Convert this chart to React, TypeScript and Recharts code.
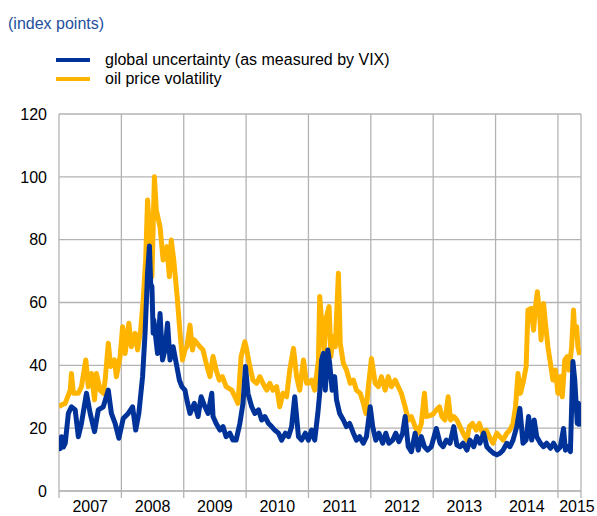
import { LineChart, Line, XAxis, YAxis, CartesianGrid } from "recharts";

// time axis in chart years (gridlines sit on whole numbers), value in index points
const vix: [number, number][] = [
  [2007.0, 15.2], [2007.02, 13.5], [2007.04, 17.3], [2007.07, 14.0], [2007.1, 15.2], [2007.15, 24.7],
  [2007.2, 26.8], [2007.26, 25.8], [2007.31, 17.3], [2007.36, 21.5], [2007.44, 31.1], [2007.5, 24.7],
  [2007.57, 18.9], [2007.63, 25.8], [2007.71, 26.8], [2007.79, 32.1], [2007.84, 24.7], [2007.9, 21.5],
  [2007.96, 16.8], [2008.03, 23.1], [2008.11, 24.7], [2008.18, 26.8], [2008.23, 19.4], [2008.28, 24.7],
  [2008.34, 36.4], [2008.38, 50.2], [2008.42, 69.3], [2008.45, 78.0], [2008.47, 66.0], [2008.49, 65.0],
  [2008.51, 50.2], [2008.52, 54.4], [2008.58, 43.8], [2008.62, 56.5], [2008.66, 41.7], [2008.7, 44.9],
  [2008.74, 53.4], [2008.78, 41.7], [2008.83, 45.9], [2008.89, 39.6], [2008.93, 35.3], [2008.97, 33.2],
  [2009.02, 32.1], [2009.05, 29.0], [2009.1, 24.7], [2009.17, 27.9], [2009.23, 23.7], [2009.28, 30.0],
  [2009.34, 26.8], [2009.39, 24.7], [2009.45, 31.1], [2009.47, 23.7], [2009.52, 21.5], [2009.58, 19.4],
  [2009.63, 20.5], [2009.68, 17.3], [2009.74, 18.4], [2009.79, 16.2], [2009.84, 16.2], [2009.9, 21.5],
  [2009.95, 27.9], [2009.99, 39.6], [2010.03, 31.1], [2010.09, 26.8], [2010.14, 24.7], [2010.2, 25.8],
  [2010.25, 22.6], [2010.3, 23.7], [2010.36, 21.5], [2010.41, 20.5], [2010.46, 19.4], [2010.52, 18.4],
  [2010.57, 16.2], [2010.63, 18.4], [2010.68, 17.3], [2010.73, 20.5], [2010.78, 30.0], [2010.84, 17.3],
  [2010.89, 16.2], [2010.95, 18.4], [2011.0, 16.2], [2011.05, 19.4], [2011.1, 16.2], [2011.15, 24.7],
  [2011.18, 31.1], [2011.21, 41.7], [2011.24, 43.8], [2011.27, 32.1], [2011.31, 44.9], [2011.34, 40.6],
  [2011.38, 32.1], [2011.42, 36.4], [2011.45, 29.0], [2011.5, 24.7], [2011.56, 22.6], [2011.61, 20.5],
  [2011.66, 21.5], [2011.72, 18.4], [2011.77, 16.2], [2011.82, 17.3], [2011.88, 15.2], [2011.93, 17.3],
  [2011.99, 26.8], [2012.03, 20.5], [2012.08, 16.2], [2012.13, 18.4], [2012.19, 15.2], [2012.24, 18.4],
  [2012.29, 15.2], [2012.35, 16.2], [2012.4, 18.4], [2012.45, 15.7], [2012.51, 18.4], [2012.55, 23.7],
  [2012.6, 14.1], [2012.65, 12.5], [2012.71, 18.4], [2012.76, 13.0], [2012.81, 17.3], [2012.86, 14.1],
  [2012.91, 13.0], [2012.97, 14.1], [2013.05, 19.9], [2013.11, 15.2], [2013.16, 14.1], [2013.21, 16.2],
  [2013.27, 15.2], [2013.33, 20.5], [2013.38, 14.6], [2013.43, 14.1], [2013.48, 15.2], [2013.54, 13.0],
  [2013.59, 16.2], [2013.65, 14.1], [2013.7, 17.3], [2013.75, 15.2], [2013.81, 18.4], [2013.86, 14.1],
  [2013.91, 13.0], [2013.97, 12.0], [2014.02, 11.5], [2014.07, 12.0], [2014.12, 13.0], [2014.18, 15.2],
  [2014.23, 14.1], [2014.28, 16.2], [2014.34, 20.5], [2014.39, 26.3], [2014.44, 15.2], [2014.49, 16.2],
  [2014.53, 23.7], [2014.58, 16.2], [2014.62, 22.6], [2014.66, 17.3], [2014.72, 15.2], [2014.77, 14.1],
  [2014.82, 15.2], [2014.88, 13.6], [2014.93, 15.2], [2014.99, 13.0], [2015.04, 14.1], [2015.09, 19.9],
  [2015.12, 13.0], [2015.16, 14.1], [2015.2, 12.5], [2015.24, 41.2], [2015.27, 35.3], [2015.31, 21.5],
  [2015.33, 27.9], [2015.35, 20.5],
];

const oilVol: [number, number][] = [
  [2007.0, 26.8], [2007.05, 27.5], [2007.1, 27.9], [2007.18, 32.1], [2007.2, 37.4], [2007.23, 31.1],
  [2007.31, 31.1], [2007.36, 33.2], [2007.43, 41.7], [2007.47, 33.2], [2007.52, 37.4], [2007.57, 29.0],
  [2007.6, 37.4], [2007.66, 32.1], [2007.71, 31.1], [2007.74, 35.3], [2007.79, 47.0], [2007.83, 39.6],
  [2007.89, 41.7], [2007.92, 36.4], [2007.98, 42.8], [2008.02, 52.3], [2008.06, 43.8], [2008.12, 53.4],
  [2008.16, 45.9], [2008.22, 50.2], [2008.26, 44.9], [2008.31, 51.2], [2008.35, 60.8], [2008.39, 73.5],
  [2008.42, 92.6], [2008.45, 84.1], [2008.49, 68.2], [2008.53, 100.0], [2008.56, 89.4], [2008.62, 84.1],
  [2008.67, 73.5], [2008.73, 77.8], [2008.77, 68.2], [2008.8, 79.9], [2008.84, 73.5], [2008.89, 62.9],
  [2008.94, 50.5], [2008.98, 41.7], [2009.02, 45.0], [2009.05, 45.9], [2009.1, 52.8], [2009.14, 44.9],
  [2009.17, 48.1], [2009.26, 45.9], [2009.31, 44.9], [2009.36, 40.6], [2009.42, 36.4], [2009.47, 42.8],
  [2009.52, 38.5], [2009.57, 35.3], [2009.62, 36.4], [2009.68, 33.2], [2009.77, 32.1], [2009.82, 30.0],
  [2009.87, 27.9], [2009.92, 42.8], [2009.98, 47.5], [2010.0, 45.9], [2010.06, 39.6], [2010.11, 35.3],
  [2010.17, 34.3], [2010.22, 36.4], [2010.27, 34.3], [2010.33, 32.1], [2010.38, 34.3], [2010.43, 32.1],
  [2010.49, 33.2], [2010.54, 26.8], [2010.59, 31.1], [2010.65, 30.0], [2010.7, 38.5], [2010.76, 45.4],
  [2010.81, 36.4], [2010.86, 32.1], [2010.92, 41.7], [2010.97, 34.3], [2011.0, 34.3], [2011.05, 35.3],
  [2011.1, 32.1], [2011.16, 41.7], [2011.18, 61.9], [2011.22, 52.3], [2011.25, 44.9], [2011.29, 55.5],
  [2011.33, 58.7], [2011.36, 42.8], [2011.39, 49.1], [2011.43, 45.9], [2011.48, 69.3], [2011.51, 47.0],
  [2011.56, 40.6], [2011.61, 38.5], [2011.67, 34.3], [2011.72, 35.3], [2011.77, 32.1], [2011.83, 31.1],
  [2011.88, 27.9], [2011.92, 24.7], [2011.96, 33.2], [2012.01, 42.2], [2012.07, 34.3], [2012.12, 33.2],
  [2012.17, 36.4], [2012.23, 32.1], [2012.28, 36.4], [2012.33, 33.2], [2012.39, 35.3], [2012.44, 33.2],
  [2012.49, 31.1], [2012.55, 26.8], [2012.6, 22.6], [2012.65, 23.7], [2012.71, 20.5], [2012.76, 18.4],
  [2012.81, 21.5], [2012.86, 31.1], [2012.89, 23.7], [2012.95, 24.0], [2013.0, 24.5], [2013.05, 25.8],
  [2013.1, 26.8], [2013.14, 23.7], [2013.19, 22.6], [2013.24, 30.0], [2013.28, 22.6], [2013.33, 23.7],
  [2013.38, 22.6], [2013.43, 20.5], [2013.48, 18.4], [2013.54, 16.2], [2013.58, 20.5], [2013.63, 21.5],
  [2013.69, 19.4], [2013.74, 21.5], [2013.79, 18.4], [2013.85, 19.4], [2013.9, 17.3], [2013.96, 15.2],
  [2014.02, 18.4], [2014.07, 17.3], [2014.12, 16.2], [2014.18, 18.4], [2014.23, 19.4], [2014.28, 21.5],
  [2014.32, 26.8], [2014.36, 37.4], [2014.4, 31.1], [2014.45, 35.3], [2014.49, 39.6], [2014.52, 57.6],
  [2014.57, 58.1], [2014.61, 51.2], [2014.64, 58.7], [2014.67, 63.4], [2014.71, 55.5], [2014.73, 48.1],
  [2014.77, 59.7], [2014.8, 53.4], [2014.84, 45.9], [2014.88, 40.6], [2014.92, 35.3], [2014.96, 38.5],
  [2015.0, 31.1], [2015.04, 36.4], [2015.07, 30.0], [2015.11, 41.7], [2015.15, 42.8], [2015.18, 38.5],
  [2015.22, 45.9], [2015.25, 57.6], [2015.27, 50.2], [2015.3, 52.3], [2015.32, 45.9], [2015.35, 43.3],
];

const years = [2007, 2008, 2009, 2010, 2011, 2012, 2013, 2014, 2015];
const xEnd = 2015.37;
const yTicks = [0, 20, 40, 60, 80, 100, 120];

const BLUE = "#003399";
const ORANGE = "#ffb400";
const GRID = "#b3b3b3";
const FONT = "'Liberation Sans', Arial, sans-serif";

const vixData = vix.map(([t, v]) => ({ t, v }));
const oilData = oilVol.map(([t, v]) => ({ t, v }));

const legendItems = [
  { label: "global uncertainty (as measured by VIX)", color: BLUE },
  { label: "oil price volatility", color: ORANGE },
];

function YearTick(props: any) {
  const { x, y, payload } = props;
  const year = payload.value;
  if (year >= xEnd) return null;
  const yearPx = (581 - 59) / (xEnd - 2007);
  const dx = year === 2015 ? 19 : yearPx / 2;
  return (
    <text x={x + dx} y={y} dy="0.75em" textAnchor="middle" fill="#000" fontSize={16} fontFamily={FONT}>
      {year}
    </text>
  );
}

export default function App() {
  return (
    <div style={{ position: "absolute", left: 0, top: 0, width: 597, height: 516, background: "#fff" }}>
      <div style={{ position: "absolute", left: 8, top: 15, fontFamily: FONT, fontSize: 16, color: "#24509e" }}>
        (index points)
      </div>
      <div style={{ position: "absolute", left: 56, top: 50, fontFamily: FONT, fontSize: 16, zIndex: 1 }}>
        {legendItems.map((it) => (
          <div key={it.label} style={{ display: "flex", alignItems: "center", height: 19 }}>
            <span style={{ display: "inline-block", width: 34, height: 4, background: it.color, marginRight: 15 }} />
            <span style={{ color: "#000" }}>{it.label}</span>
          </div>
        ))}
      </div>
      <LineChart width={597} height={516} margin={{ top: 114, right: 16, bottom: 0, left: 0 }}>
        <CartesianGrid stroke={GRID} strokeWidth={1.3} />
        <XAxis
          type="number"
          dataKey="t"
          domain={[2007, xEnd]}
          ticks={[...years, xEnd]}
          interval={0}
          allowDataOverflow
          height={25}
          stroke={GRID}
          tickSize={7}
          tickLine={{ stroke: GRID, strokeWidth: 1.3 }}
          tick={<YearTick />}
        />
        <YAxis
          domain={[0, 120]}
          ticks={yTicks}
          width={59}
          axisLine={false}
          tickLine={false}
          tickSize={6}
          tickMargin={6}
          tick={{ fill: "#000", fontSize: 16, fontFamily: FONT }}
        />
        <Line data={oilData} dataKey="v" name="oil price volatility" stroke={ORANGE} strokeWidth={5}
          dot={false} type="linear" isAnimationActive={false} strokeLinejoin="round" />
        <Line data={vixData} dataKey="v" name="global uncertainty (as measured by VIX)" stroke={BLUE} strokeWidth={5}
          dot={false} type="linear" isAnimationActive={false} strokeLinejoin="round" />
      </LineChart>
    </div>
  );
}
